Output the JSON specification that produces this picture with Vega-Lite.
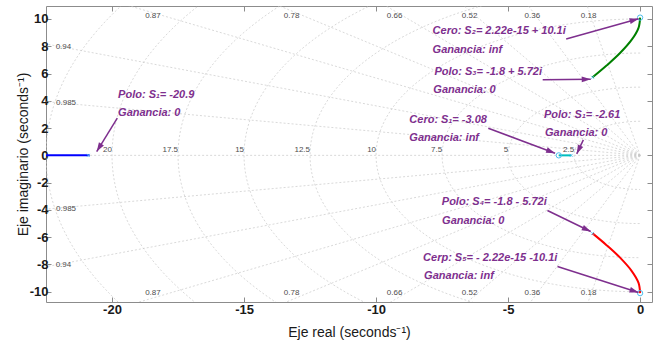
{
  "$schema": "https://vega.github.io/schema/vega-lite/v6.json",
  "width": 606,
  "height": 296,
  "autosize": {"type": "none"},
  "padding": {"left": 46, "top": 6, "right": 10, "bottom": 38},
  "background": "white",
  "config": {"view": {"stroke": "#8c8c8c", "strokeWidth": 1}, "font": "Liberation Sans"},
  "datasets": {
    "rays": [
      {"z": 0.18, "x0": 0, "y0": 0, "ex": -7.2, "ey": 39.347}, {"z": 0.18, "x0": 0, "y0": 0, "ex": -7.2, "ey": -39.347},
      {"z": 0.36, "x0": 0, "y0": 0, "ex": -14.4, "ey": 37.318}, {"z": 0.36, "x0": 0, "y0": 0, "ex": -14.4, "ey": -37.318},
      {"z": 0.52, "x0": 0, "y0": 0, "ex": -20.8, "ey": 34.167}, {"z": 0.52, "x0": 0, "y0": 0, "ex": -20.8, "ey": -34.167},
      {"z": 0.66, "x0": 0, "y0": 0, "ex": -26.4, "ey": 30.051}, {"z": 0.66, "x0": 0, "y0": 0, "ex": -26.4, "ey": -30.051},
      {"z": 0.78, "x0": 0, "y0": 0, "ex": -31.2, "ey": 25.031}, {"z": 0.78, "x0": 0, "y0": 0, "ex": -31.2, "ey": -25.031},
      {"z": 0.87, "x0": 0, "y0": 0, "ex": -34.8, "ey": 19.722}, {"z": 0.87, "x0": 0, "y0": 0, "ex": -34.8, "ey": -19.722},
      {"z": 0.94, "x0": 0, "y0": 0, "ex": -37.6, "ey": 13.647}, {"z": 0.94, "x0": 0, "y0": 0, "ex": -37.6, "ey": -13.647},
      {"z": 0.985, "x0": 0, "y0": 0, "ex": -39.4, "ey": 6.902}, {"z": 0.985, "x0": 0, "y0": 0, "ex": -39.4, "ey": -6.902},
      {"z": 1, "x0": 0, "y0": 0, "ex": -40, "ey": 0}
    ],
    "circles": [
      {"wn": 2.5, "cx": 0, "cy": 0}, {"wn": 5, "cx": 0, "cy": 0}, {"wn": 7.5, "cx": 0, "cy": 0},
      {"wn": 10, "cx": 0, "cy": 0}, {"wn": 12.5, "cx": 0, "cy": 0}, {"wn": 15, "cx": 0, "cy": 0},
      {"wn": 17.5, "cx": 0, "cy": 0}, {"wn": 20, "cx": 0, "cy": 0}, {"wn": 22.5, "cx": 0, "cy": 0}
    ],
    "zlabels": [
      {"t": "0.87", "x": -18.45, "y": 10.22}, {"t": "0.78", "x": -13.2, "y": 10.22},
      {"t": "0.66", "x": -9.3, "y": 10.22}, {"t": "0.52", "x": -6.46, "y": 10.22},
      {"t": "0.36", "x": -4.08, "y": 10.22}, {"t": "0.18", "x": -1.95, "y": 10.22},
      {"t": "0.87", "x": -18.45, "y": -10.1}, {"t": "0.78", "x": -13.2, "y": -10.1},
      {"t": "0.66", "x": -9.3, "y": -10.1}, {"t": "0.52", "x": -6.46, "y": -10.1},
      {"t": "0.36", "x": -4.08, "y": -10.1}, {"t": "0.18", "x": -1.95, "y": -10.1},
      {"t": "0.94", "x": -21.84, "y": 7.95}, {"t": "0.985", "x": -21.74, "y": 3.85},
      {"t": "0.985", "x": -21.74, "y": -3.92}, {"t": "0.94", "x": -21.84, "y": -8.04}
    ],
    "wlabels": [
      {"t": "2.5", "x": -2.5, "y": 0}, {"t": "5", "x": -5, "y": 0}, {"t": "7.5", "x": -7.5, "y": 0},
      {"t": "10", "x": -10, "y": 0}, {"t": "12.5", "x": -12.5, "y": 0}, {"t": "15", "x": -15, "y": 0},
      {"t": "17.5", "x": -17.5, "y": 0}, {"t": "20", "x": -20, "y": 0}
    ],
    "loci": [
      {"b": "blue", "o": 0, "x": -22.5, "y": 0}, {"b": "blue", "o": 1, "x": -20.85, "y": 0},
      {"b": "cyan", "o": 0, "x": -3.08, "y": 0}, {"b": "cyan", "o": 1, "x": -2.61, "y": 0},
      {"b": "green", "o": 0, "x": -1.8, "y": 5.72}, {"b": "green", "o": 1, "x": -1.26, "y": 6.6},
      {"b": "green", "o": 2, "x": -0.76, "y": 7.5}, {"b": "green", "o": 3, "x": -0.31, "y": 8.5},
      {"b": "green", "o": 4, "x": -0.06, "y": 9.35}, {"b": "green", "o": 5, "x": 0, "y": 10.1},
      {"b": "red", "o": 0, "x": -1.8, "y": -5.72}, {"b": "red", "o": 1, "x": -1.26, "y": -6.6},
      {"b": "red", "o": 2, "x": -0.76, "y": -7.5}, {"b": "red", "o": 3, "x": -0.31, "y": -8.5},
      {"b": "red", "o": 4, "x": -0.06, "y": -9.35}, {"b": "red", "o": 5, "x": 0, "y": -10.1}
    ],
    "zeros": [{"x": 0, "y": 10.1}, {"x": 0, "y": -10.1}, {"x": -3.08, "y": 0}],
    "poles": [{"x": -20.9, "y": 0}, {"x": -2.61, "y": 0}, {"x": -1.8, "y": 5.72}, {"x": -1.8, "y": -5.72}],
    "arrows": [
      {"sx": -19.8, "sy": 2.73, "tx": -20.58, "ty": 0.28},
      {"sx": -2.8, "sy": 8.53, "tx": -0.06, "ty": 10.02},
      {"sx": -3.69, "sy": 5.55, "tx": -1.87, "ty": 5.58},
      {"sx": -5.75, "sy": 1.99, "tx": -3.22, "ty": 0.16},
      {"sx": -2.15, "sy": 1.14, "tx": -2.4, "ty": 0.11},
      {"sx": -3.51, "sy": -4.04, "tx": -1.87, "ty": -5.58},
      {"sx": -3.13, "sy": -8.15, "tx": -0.06, "ty": -10.05}
    ],
    "notes": [
      {"t": "Polo: S₁= -20.9", "x": -19.77, "y": 4.43},
      {"t": "Ganancia: 0", "x": -19.77, "y": 3.11},
      {"t": "Cero: S₂= 2.22e-15 + 10.1i", "x": -7.86, "y": 9.1},
      {"t": "Ganancia: inf", "x": -7.86, "y": 7.73},
      {"t": "Polo: S₃= -1.8 + 5.72i", "x": -7.79, "y": 6.14},
      {"t": "Ganancia: 0", "x": -7.83, "y": 4.8},
      {"t": "Cero: S₁= -3.08", "x": -8.74, "y": 2.6},
      {"t": "Ganancia: inf", "x": -8.74, "y": 1.26},
      {"t": "Polo: S₁= -2.61", "x": -3.64, "y": 2.97},
      {"t": "Ganancia: 0", "x": -3.6, "y": 1.63},
      {"t": "Polo: S₄= -1.8 - 5.72i", "x": -7.51, "y": -3.43},
      {"t": "Ganancia: 0", "x": -7.5, "y": -4.78},
      {"t": "Cerp: S₅= - 2.22e-15 -10.1i", "x": -8.22, "y": -7.53},
      {"t": "Ganancia: inf", "x": -8.18, "y": -8.88}
    ]
  },
  "layer": [
    {
      "data": {"name": "rays"},
      "mark": {"type": "rule", "stroke": "#c8c8c8", "strokeWidth": 0.7, "strokeDash": [2, 2], "clip": true},
      "encoding": {
        "x": {"field": "x0", "type": "quantitative",
          "scale": {"domain": [-22.5, 0.45], "nice": false, "zero": false},
          "axis": {"orient": "bottom", "values": [-20, -15, -10, -5, 0], "grid": false, "domain": false,
            "tickSize": -5, "tickColor": "#8c8c8c", "labelFontSize": 13, "labelFontWeight": "bold",
            "labelColor": "#1a1a1a", "labelPadding": 6, "labelFlush": false,
            "labelExpr": "toString(datum.value)",
            "title": "Eje real (seconds⁻¹)", "titleFontSize": 14, "titleFontWeight": "normal",
            "titleColor": "#1a1a1a", "titleY": 34, "titleBaseline": "alphabetic"}},
        "y": {"field": "y0", "type": "quantitative",
          "scale": {"domain": [-10.75, 10.95], "nice": false, "zero": false},
          "axis": {"orient": "left", "values": [-10, -8, -6, -4, -2, 0, 2, 4, 6, 8, 10], "grid": false, "domain": false,
            "tickSize": -5, "tickColor": "#8c8c8c", "labelFontSize": 13, "labelFontWeight": "bold",
            "labelColor": "#1a1a1a", "labelPadding": 3, "labelFlush": false,
            "labelExpr": "toString(datum.value)",
            "title": "Eje imaginario (seconds⁻¹)", "titleFontSize": 14, "titleFontWeight": "normal",
            "titleColor": "#1a1a1a", "titleX": -19, "titleY": 148, "titleBaseline": "alphabetic"}},
        "x2": {"field": "ex"},
        "y2": {"field": "ey"}
      }
    },
    {
      "data": {"name": "circles"},
      "mark": {"type": "point", "shape": "M0,-0.5166A1,0.5166,0,0,0,0,0.5166", "filled": false,
        "stroke": "#c8c8c8", "strokeWidth": 0.7, "strokeDash": [2, 2], "opacity": 1, "clip": true},
      "encoding": {
        "x": {"field": "cx", "type": "quantitative",
          "axis": {"orient": "top", "values": [-20, -15, -10, -5, 0], "labels": false, "title": null, "grid": false,
            "domain": false, "tickSize": -5, "tickColor": "#8c8c8c"}},
        "y": {"field": "cy", "type": "quantitative",
          "axis": {"orient": "right", "values": [-10, -8, -6, -4, -2, 0, 2, 4, 6, 8, 10], "labels": false, "title": null,
            "grid": false, "domain": false, "tickSize": -5, "tickColor": "#8c8c8c"}},
        "size": {"field": "wn", "type": "quantitative",
          "scale": {"type": "pow", "exponent": 2, "domain": [0, 22.5], "range": [0, 1411826]}, "legend": null}
      }
    },
    {
      "data": {"name": "zlabels"},
      "mark": {"type": "text", "fontSize": 8, "color": "#4d4d4d", "align": "center", "baseline": "middle"},
      "encoding": {
        "x": {"field": "x", "type": "quantitative", "axis": null},
        "y": {"field": "y", "type": "quantitative", "axis": null},
        "text": {"field": "t", "type": "nominal"}
      }
    },
    {
      "data": {"name": "wlabels"},
      "mark": {"type": "text", "fontSize": 8, "color": "#4d4d4d", "align": "right", "baseline": "bottom", "dy": -1},
      "encoding": {
        "x": {"field": "x", "type": "quantitative", "axis": null},
        "y": {"field": "y", "type": "quantitative", "axis": null},
        "text": {"field": "t", "type": "nominal"}
      }
    },
    {
      "data": {"name": "loci"},
      "mark": {"type": "line", "strokeWidth": 2, "interpolate": "catmull-rom", "clip": true},
      "encoding": {
        "x": {"field": "x", "type": "quantitative", "axis": null},
        "y": {"field": "y", "type": "quantitative", "axis": null},
        "order": {"field": "o", "type": "quantitative"},
        "color": {"field": "b", "type": "nominal",
          "scale": {"domain": ["blue", "cyan", "green", "red"], "range": ["#0000ff", "#00bfbf", "#008000", "#ff0000"]},
          "legend": null}
      }
    },
    {
      "data": {"name": "zeros"},
      "mark": {"type": "point", "shape": "circle", "filled": false, "stroke": "#4dbeee", "strokeWidth": 1, "size": 28, "opacity": 1},
      "encoding": {
        "x": {"field": "x", "type": "quantitative", "axis": null},
        "y": {"field": "y", "type": "quantitative", "axis": null}
      }
    },
    {
      "data": {"name": "poles"},
      "mark": {"type": "point", "shape": "M-1,-1L1,1M-1,1L1,-1", "filled": false, "stroke": "#4dbeee", "strokeWidth": 0.8, "size": 9, "opacity": 1},
      "encoding": {
        "x": {"field": "x", "type": "quantitative", "axis": null},
        "y": {"field": "y", "type": "quantitative", "axis": null}
      }
    },
    {
      "data": {"name": "arrows"},
      "mark": {"type": "rule", "stroke": "#7e2f8e", "strokeWidth": 1.5},
      "encoding": {
        "x": {"field": "sx", "type": "quantitative", "axis": null},
        "y": {"field": "sy", "type": "quantitative", "axis": null},
        "x2": {"field": "tx"},
        "y2": {"field": "ty"}
      }
    },
    {
      "data": {"name": "arrows"},
      "transform": [
        {"calculate": "(atan2(-(datum.ty - datum.sy) * 13.641, (datum.tx - datum.sx) * 26.405) * 180 / PI + 360) % 360", "as": "ang"}
      ],
      "mark": {"type": "point", "shape": "M0,0L-2,-0.65L-2,0.65Z", "filled": true, "fill": "#7e2f8e", "strokeWidth": 0, "size": 81, "opacity": 1},
      "encoding": {
        "x": {"field": "tx", "type": "quantitative", "axis": null},
        "y": {"field": "ty", "type": "quantitative", "axis": null},
        "angle": {"field": "ang", "type": "quantitative", "scale": null}
      }
    },
    {
      "data": {"name": "notes"},
      "mark": {"type": "text", "fontSize": 11, "fontWeight": "bold", "fontStyle": "italic", "color": "#7e2f8e", "align": "left", "baseline": "middle"},
      "encoding": {
        "x": {"field": "x", "type": "quantitative", "axis": null},
        "y": {"field": "y", "type": "quantitative", "axis": null},
        "text": {"field": "t", "type": "nominal"}
      }
    }
  ],
  "resolve": {"axis": {"x": "independent", "y": "independent"}}
}
